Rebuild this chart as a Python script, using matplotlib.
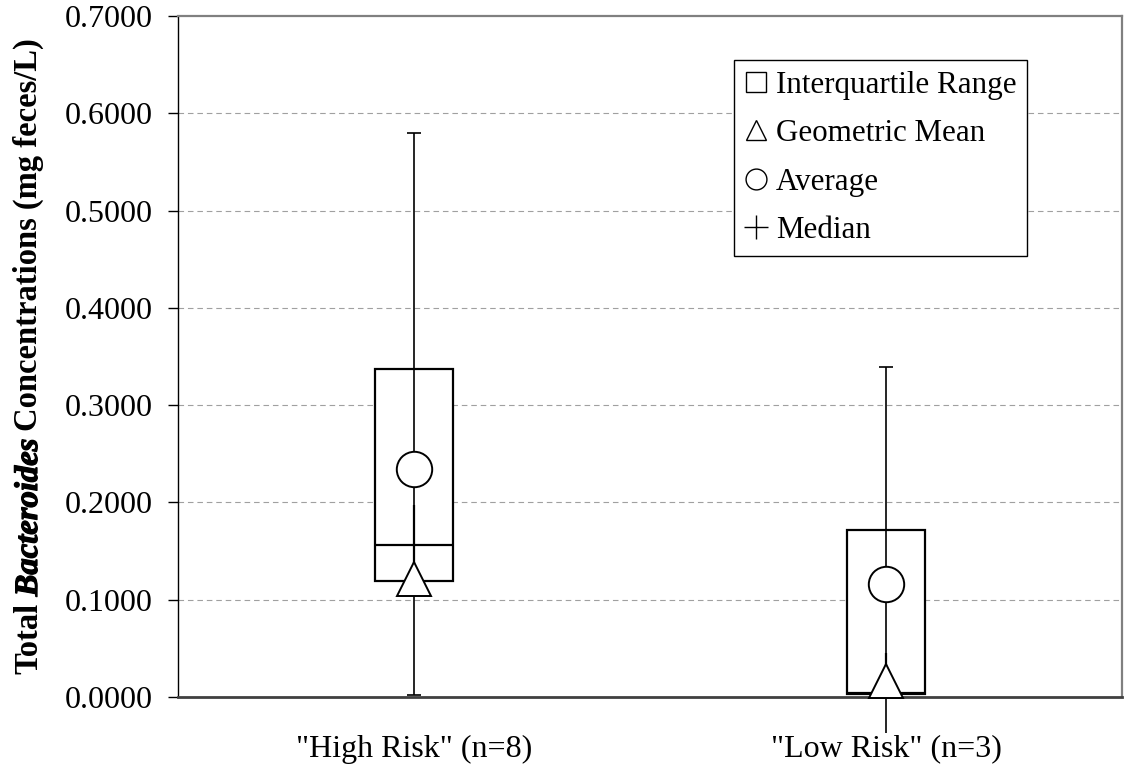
import numpy as np
import matplotlib
matplotlib.use("Agg")
import matplotlib.pyplot as plt
import matplotlib.patheffects as pe
from matplotlib.lines import Line2D
from matplotlib.transforms import IdentityTransform

plt.rcParams['font.family'] = ['Liberation Serif', 'DejaVu Serif']

# data (mg feces/L)
groups = ['"High Risk" (n=8)', '"Low Risk" (n=3)']
q1 = [0.119, 0.003]
q3 = [0.337, 0.172]
median = [0.156, 0.004]
average = [0.234, 0.116]
geo_mean = [0.121, 0.016]
whisker_low = [0.002, -0.037]
whisker_high = [0.580, 0.339]
yticks = [0.0, 0.1, 0.2, 0.3, 0.4, 0.5, 0.6, 0.7]

ylabel_parts = ['Total', 'Bacteroides', 'Concentrations (mg feces/L)']
ylabel_styles = ['normal', 'italic', 'normal']

x = np.arange(1, len(groups) + 1)
q1 = np.array(q1)
q3 = np.array(q3)

fig = plt.figure(figsize=(11.26, 7.73), dpi=100)
ax = fig.add_axes([178 / 1126, 1 - 697 / 773, 944 / 1126, 681 / 773])

# dashed gridlines
for v in yticks[1:-1]:
    ax.axhline(v, color='#a0a0a0', lw=0.8, ls=(0, (5, 3.5)), zorder=0)

# interquartile boxes
ax.bar(x, q3 - q1, bottom=q1, width=0.165, facecolor='white',
       edgecolor='black', linewidth=1.6, zorder=2)

# whiskers
ax.vlines(x, whisker_low, whisker_high, color='black', lw=1.2, zorder=3, clip_on=False)
ax.plot(x, whisker_high, ls='none', marker='_', ms=9.5, mew=1.2, color='black', zorder=3)
lo = np.array(whisker_low)
ax.plot(x[lo >= 0], lo[lo >= 0], ls='none', marker='_', ms=9.5, mew=1.2,
        color='black', zorder=3, clip_on=False)

# median, average, geometric mean
ax.plot(x, median, ls='none', marker='+', ms=57, mew=1.6, color='black', zorder=4)
ax.plot(x, average, ls='none', marker='o', ms=25.5, mfc='white', mec='black', mew=1.4, zorder=5)
ax.plot(x, geo_mean, ls='none', marker='^', ms=24.5, mfc='white', mec='black', mew=1.4,
        zorder=6, clip_on=False)

ax.set_xlim(0.5, 2.5)
ax.set_ylim(0, 0.7)
ax.set_yticks(yticks)
ax.set_yticklabels([f'{v:.4f}' for v in yticks])
ax.set_xticks(x)
ax.set_xticklabels(groups)
ax.tick_params(axis='y', direction='out', length=7, width=1, labelsize=23, pad=11)
ax.tick_params(axis='x', length=0, labelsize=23, pad=27)

ax.spines['left'].set_color('black')
ax.spines['left'].set_linewidth(1.0)
ax.spines['bottom'].set_color('#404040')
ax.spines['bottom'].set_linewidth(2.0)
for s in ['top', 'right']:
    ax.spines[s].set_color('#808080')
    ax.spines[s].set_linewidth(1.6)

# y label built from pieces so "Bacteroides" can be bold italic
renderer = fig.canvas.get_renderer()
lab_kw = dict(fontsize=23.5, fontweight='bold', rotation=90, rotation_mode='anchor',
              ha='left', va='baseline', transform=IdentityTransform())


def text_len(s, style):
    t = fig.text(0, 0, s, fontstyle=style, **lab_kw)
    n = t.get_window_extent(renderer).height
    t.remove()
    return n


space = text_len('T T', 'normal') - text_len('TT', 'normal')
lengths = [text_len(s, st) for s, st in zip(ylabel_parts, ylabel_styles)]
total = sum(lengths) + space * (len(lengths) - 1)
ypos = (773 - 356.5) - total / 2
for s, st, n in zip(ylabel_parts, ylabel_styles, lengths):
    t = fig.text(37, ypos, s, fontstyle=st, **lab_kw)
    if st == 'italic':
        # thicken the italic run so it reads as bold italic
        t.set_path_effects([pe.withStroke(linewidth=0.9, foreground='black')])
    ypos += n + space

handles = [
    Line2D([], [], ls='none', marker='s', ms=15, mfc='white', mec='black', mew=1),
    Line2D([], [], ls='none', marker='^', ms=15, mfc='white', mec='black', mew=1),
    Line2D([], [], ls='none', marker='o', ms=15, mfc='white', mec='black', mew=1),
    Line2D([], [], ls='none', marker='+', ms=17, mec='black', mew=1),
]
labels = ['Interquartile Range', 'Geometric Mean', 'Average', 'Median']
leg = ax.legend(handles, labels, loc='upper left', bbox_to_anchor=(0.589, 0.935),
                borderaxespad=0, fontsize=22.3, frameon=True, fancybox=False,
                edgecolor='black', framealpha=1, handlelength=0.7,
                handletextpad=0.3, labelspacing=0.62, borderpad=0.35)
leg.get_frame().set_linewidth(1.0)

fig.savefig('out.png', dpi=100)
